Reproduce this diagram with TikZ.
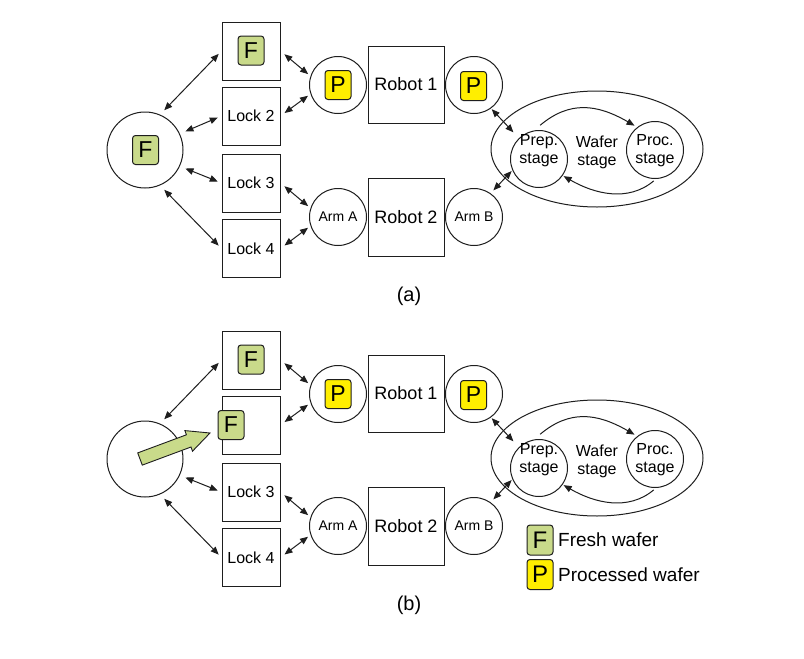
\documentclass[tikz,border=0pt]{standalone}
\usepackage{fontspec}
\setmainfont{Liberation Sans}
\usetikzlibrary{arrows.meta,shapes.geometric}
\definecolor{freshg}{HTML}{C9DA8A}
\definecolor{procy}{HTML}{FFEE00}
\definecolor{lc}{HTML}{1E1E1E}
\tikzset{
 box/.style={draw=lc, line width=1pt, minimum width=58pt, minimum height=58pt, inner sep=0pt, font=\fontsize{16}{18}\selectfont},
 robot/.style={draw=lc, line width=1pt, minimum width=76pt, minimum height=77pt, inner sep=0pt, font=\fontsize{18}{20}\selectfont},
 arm/.style={circle, draw=lc, line width=1pt, minimum size=57pt, inner sep=0pt, font=\fontsize{14}{16}\selectfont},
 bigc/.style={circle, draw=lc, line width=1pt, minimum size=76pt, inner sep=0pt},
 txt/.style={align=center, inner sep=0pt, font=\fontsize{16}{18}\selectfont},
 fw/.style={draw=lc, line width=1pt, rounded corners=3pt, fill=freshg, minimum width=26pt, minimum height=29pt, inner sep=0pt, font=\fontsize{23}{23}\selectfont},
 pw/.style={fw, fill=procy},
 dbl/.style={{Triangle[length=8pt,width=6.5pt]}-{Triangle[length=8pt,width=6.5pt]}, line width=1pt, draw=lc},
 sgl/.style={-{Triangle[length=8pt,width=6.5pt]}, line width=1pt, draw=lc},
 captxt/.style={inner sep=0pt, font=\fontsize{20}{22}\selectfont},
 legt/.style={anchor=west, inner sep=0pt, font=\fontsize{19}{21}\selectfont},
}
\newcommand\wpanel[2]{%
 \node[box] (lkone#1) at (251,51) {};
 \node[box] (lktwo#1) at (251,116) {#2};
 \node[box] (lkthree#1) at (251,183) {Lock 3};
 \node[box] (lkfour#1) at (251,248.5) {Lock 4};
 \node[bigc] (big#1) at (145,150) {};
 \node[robot] (rone#1) at (406,84.5) {Robot 1};
 \node[robot, minimum height=78pt] (rtwo#1) at (406,217) {Robot 2};
 \node[arm] (pl#1) at (338,85) {};
 \node[arm] (arma#1) at (338,217) {Arm A};
 \node[arm] (pr#1) at (474,85) {};
 \node[arm] (armb#1) at (474,217) {Arm B};
 \node[pw] (plp#1) at (338,85) {P};
 \node[pw] (prp#1) at (473.5,86) {P};
 \node[fw] (lkonef#1) at (251,50.5) {F};
 \node[ellipse, draw=lc, line width=1pt, minimum width=212pt, minimum height=116pt, inner sep=0pt] (ell#1) at (597,149) {};
 \node[arm] (prep#1) at (539,159) {};
 \node[txt] (preptxt#1) at (539,151) {Prep.\\stage};
 \node[arm] (proc#1) at (655,150) {};
 \node[txt] (proctxt#1) at (655,151) {Proc.\\stage};
 \node[txt] (wafer#1) at (597,152) {Wafer\\stage};
 \draw[dbl, shorten <=6pt, shorten >=4pt] (big#1.67) -- (lkone#1.west);
 \draw[dbl, shorten <=6pt, shorten >=4pt] (big#1.-25) -- (lkthree#1.west);
 \draw[dbl, shorten <=6pt, shorten >=4pt] (big#1.-67) -- (lkfour#1.west);
 \draw[dbl, shorten <=5pt, shorten >=3pt] (lkone#1.east) -- (pl#1.162);
 \draw[dbl, shorten <=5pt, shorten >=3pt] (lktwo#1.east) -- (pl#1.198);
 \draw[dbl, shorten <=5pt, shorten >=3pt] (lkthree#1.east) -- (arma#1.162);
 \draw[dbl, shorten <=5pt, shorten >=3pt] (lkfour#1.east) -- (arma#1.198);
 \draw[dbl, shorten <=1pt, shorten >=8pt] (pr#1.-54) -- (prep#1.134);
 \draw[dbl, shorten <=4pt, shorten >=1pt] (armb#1.55) -- (prep#1.203);
 \draw[sgl, shorten <=8pt, shorten >=3pt] (prep#1.100) to[out=40,in=150,looseness=1.15] (proc#1.128);
 \draw[sgl, shorten <=3pt, shorten >=1pt] (proc#1.-88) to[out=-140,in=-30] (prep#1.-35);
}
\begin{document}
\begin{tikzpicture}[x=1pt,y=-1pt]
\useasboundingbox (0,0) rectangle (804,659);
\fill[white] (0,0) rectangle (804,659);
% panel (a)
\wpanel{a}{Lock 2}
\node[fw] (bigf) at (145.5,150) {F};
\draw[dbl, shorten <=6pt, shorten >=4pt] (biga.25) -- (lktwoa.west);
\node[captxt] (capa) at (409,296) {(a)};
% panel (b)
\begin{scope}[shift={(0,309)}]
\wpanel{b}{}
\end{scope}
\draw[draw=lc, line width=0.9pt, fill=freshg, line join=miter]
 (137.7,452.9) -- (186.4,434.8) -- (184.9,430.6) -- (210,433) -- (192.5,451.2) -- (191,447) -- (142.3,465.1) -- cycle;
\node[fw] (movef) at (231,425) {F};
\node[captxt] (capb) at (409,605) {(b)};
% legend
\node[fw, minimum height=30pt, font=\fontsize{24}{24}\selectfont] (legf) at (540,540) {F};
\node[pw, minimum height=30pt, font=\fontsize{24}{24}\selectfont] (legp) at (540,574.5) {P};
\node[legt] (legft) at (558,540) {Fresh wafer};
\node[legt] (legpt) at (558,575) {Processed wafer};
\end{tikzpicture}
\end{document}
